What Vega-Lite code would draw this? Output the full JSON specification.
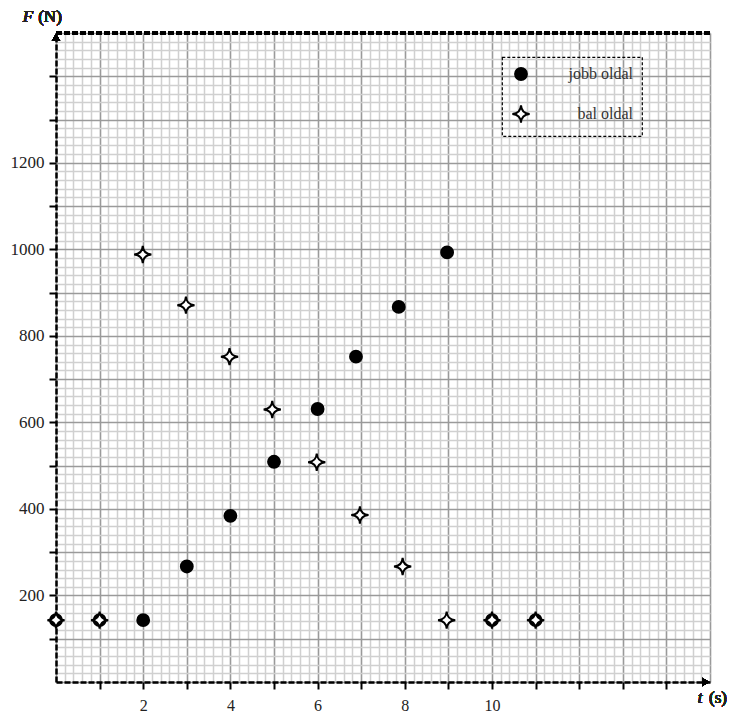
{
  "$schema": "https://vega.github.io/schema/vega-lite/v6.json",
  "width": 654,
  "height": 649,
  "autosize": {"type": "none"},
  "padding": {"left": 56, "top": 33, "right": 19, "bottom": 29},
  "background": "white",
  "config": {
    "view": {"stroke": null},
    "font": "Liberation Serif",
    "legend": {"strokeDash": [3, 2], "strokeWidth": 1.2}
  },
  "data": {
    "values": [
      {"t": 0, "F": 143, "series": "jobb oldal"},
      {"t": 1, "F": 143, "series": "jobb oldal"},
      {"t": 2, "F": 143, "series": "jobb oldal"},
      {"t": 3, "F": 267, "series": "jobb oldal"},
      {"t": 4, "F": 384, "series": "jobb oldal"},
      {"t": 5, "F": 509, "series": "jobb oldal"},
      {"t": 6, "F": 631, "series": "jobb oldal"},
      {"t": 6.88, "F": 752, "series": "jobb oldal"},
      {"t": 7.86, "F": 867, "series": "jobb oldal"},
      {"t": 8.97, "F": 993, "series": "jobb oldal"},
      {"t": 10, "F": 143, "series": "jobb oldal"},
      {"t": 11, "F": 143, "series": "jobb oldal"},
      {"t": 0, "F": 143, "series": "bal oldal"},
      {"t": 1, "F": 143, "series": "bal oldal"},
      {"t": 1.99, "F": 988, "series": "bal oldal"},
      {"t": 2.98, "F": 871, "series": "bal oldal"},
      {"t": 3.98, "F": 752, "series": "bal oldal"},
      {"t": 4.96, "F": 630, "series": "bal oldal"},
      {"t": 5.98, "F": 508, "series": "bal oldal"},
      {"t": 6.97, "F": 386, "series": "bal oldal"},
      {"t": 7.95, "F": 267, "series": "bal oldal"},
      {"t": 8.96, "F": 143, "series": "bal oldal"},
      {"t": 10, "F": 143, "series": "bal oldal"},
      {"t": 11, "F": 143, "series": "bal oldal"}
    ]
  },
  "layer": [
    {
      "mark": {"type": "point", "filled": true, "opacity": 1, "clip": false},
      "encoding": {
        "x": {
          "field": "t", "type": "quantitative",
          "scale": {"domain": [0, 15], "nice": false, "zero": false},
          "axis": {
            "title": null,
            "tickCount": 75,
            "grid": true,
            "gridColor": {"condition": {"test": "abs(datum.value - round(datum.value)) < 0.001", "value": "#9a9a9a"}, "value": "#d0d0d0"},
            "gridWidth": {"condition": {"test": "abs(datum.value - round(datum.value)) < 0.001", "value": 1.6}, "value": 1.5},
            "tickOpacity": {"condition": {"test": "abs(datum.value - round(datum.value)) < 0.001 && datum.value > 0.5 && datum.value < 14.5", "value": 1}, "value": 0},
            "tickSize": 7, "tickWidth": 2, "tickColor": "black",
            "labelExpr": "(abs(datum.value % 2) < 0.001 && datum.value > 1 && datum.value < 11) ? format(datum.value, 'd') : ''",
            "labelOverlap": false, "labelFlush": false,
            "labelFont": "Liberation Serif", "labelFontSize": 16, "labelPadding": 8, "labelColor": "#222",
            "domainColor": "black", "domainWidth": 2.5, "domainDash": [6, 2]
          }
        },
        "y": {
          "field": "F", "type": "quantitative",
          "scale": {"domain": [0, 1500], "nice": false, "zero": false},
          "axis": {
            "title": null,
            "tickCount": 75,
            "grid": true,
            "gridColor": {"condition": {"test": "abs(datum.value % 100) < 0.01", "value": "#9a9a9a"}, "value": "#d0d0d0"},
            "gridWidth": {"condition": {"test": "abs(datum.value % 100) < 0.01", "value": 1.6}, "value": 1.5},
            "tickOpacity": {"condition": {"test": "abs(datum.value % 100) < 0.01 && datum.value > 50 && datum.value < 1450", "value": 1}, "value": 0},
            "tickSize": 7, "tickWidth": 2, "tickColor": "black",
            "labelExpr": "(abs(datum.value % 200) < 0.01 && datum.value > 100 && datum.value < 1300) ? format(datum.value, 'd') : ''",
            "labelOverlap": false, "labelFlush": false,
            "labelFont": "Liberation Serif", "labelFontSize": 17, "labelPadding": 5, "labelColor": "#222",
            "domainColor": "black", "domainWidth": 2.5, "domainDash": [6, 2]
          }
        },
        "shape": {
          "field": "series", "type": "nominal",
          "scale": {"domain": ["jobb oldal", "bal oldal"], "range": ["circle", "M0,-1Q0.06,-0.06,1,0Q0.06,0.06,0,1Q-0.06,0.06,-1,0Q-0.06,-0.06,0,-1Z"]},
          "legend": {
            "title": null, "orient": "none", "legendX": 446, "legendY": 24,
            "strokeColor": "black", "padding": 9, "rowPadding": 17,
            "labelAlign": "right", "labelOffset": 102,
            "labelFont": "Liberation Serif", "labelFontSize": 16, "labelColor": "#333",
            "symbolStrokeColor": "black", "symbolStrokeWidth": 2
          }
        },
        "fill": {
          "field": "series", "type": "nominal",
          "scale": {"domain": ["jobb oldal", "bal oldal"], "range": ["black", "white"]}
        },
        "size": {
          "field": "series", "type": "nominal",
          "scale": {"domain": ["jobb oldal", "bal oldal"], "range": [140, 300]}
        },
        "stroke": {"value": "black"},
        "strokeWidth": {"value": 2}
      }
    },
    {
      "mark": {"type": "rule", "color": "black", "strokeWidth": 2.5, "strokeDash": [6, 2]},
      "encoding": {"y": {"datum": 1500}}
    },
    {
      "mark": {"type": "point", "shape": "triangle-up", "filled": true, "color": "black", "size": 70, "opacity": 1, "clip": false},
      "encoding": {"x": {"datum": 0}, "y": {"datum": 1490}}
    },
    {
      "mark": {"type": "point", "shape": "triangle-right", "filled": true, "color": "black", "size": 70, "opacity": 1, "clip": false},
      "encoding": {"x": {"datum": 14.9}, "y": {"datum": 0}}
    },
    {
      "mark": {"type": "text", "font": "Liberation Serif", "fontSize": 17, "fontStyle": "italic", "color": "#222", "dx": -28, "dy": -16, "clip": false},
      "encoding": {"x": {"datum": 0}, "y": {"datum": 1500}, "text": {"value": "F"}}
    },
    {
      "mark": {"type": "text", "font": "Liberation Serif", "fontSize": 17, "color": "#222", "dx": -6, "dy": -16, "clip": false},
      "encoding": {"x": {"datum": 0}, "y": {"datum": 1500}, "text": {"value": "(N)"}}
    },
    {
      "mark": {"type": "text", "font": "Liberation Serif", "fontSize": 17, "fontStyle": "italic", "color": "#222", "dx": -10, "dy": 16, "clip": false},
      "encoding": {"x": {"datum": 15}, "y": {"datum": 0}, "text": {"value": "t"}}
    },
    {
      "mark": {"type": "text", "font": "Liberation Serif", "fontSize": 17, "color": "#222", "dx": 8, "dy": 16, "clip": false},
      "encoding": {"x": {"datum": 15}, "y": {"datum": 0}, "text": {"value": "(s)"}}
    }
  ]
}
